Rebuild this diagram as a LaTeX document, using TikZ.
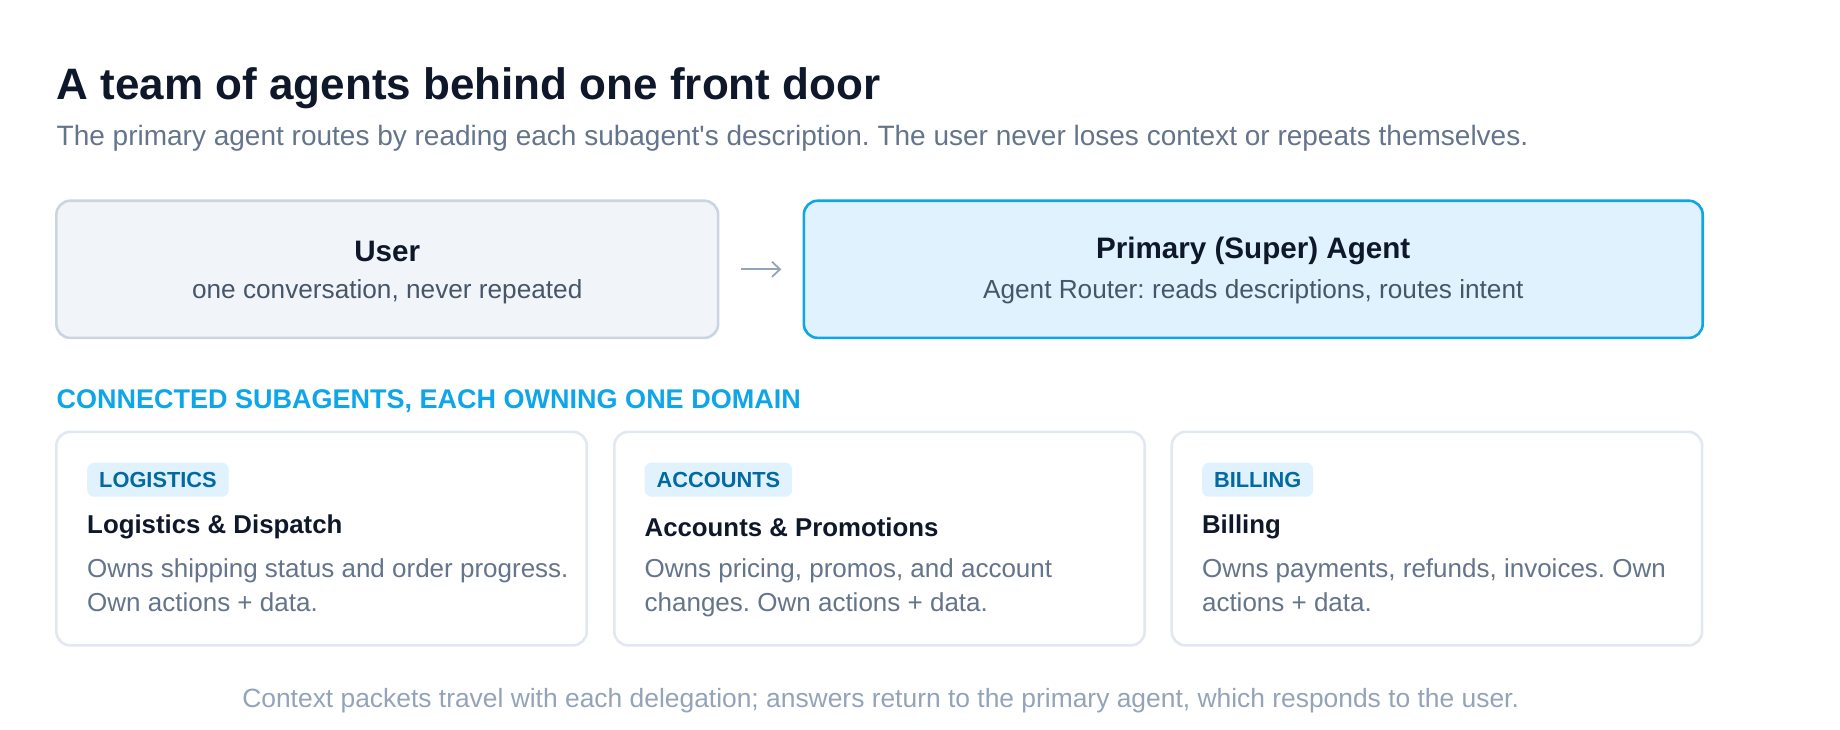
\documentclass[tikz,border=0pt]{standalone}
\usepackage{fontspec}
\setmainfont{Liberation Sans}[Ligatures=TeXOff]
\usetikzlibrary{arrows.meta}
\definecolor{ink}{HTML}{0F172A}
\definecolor{slatefive}{HTML}{64748B}
\definecolor{slatesix}{HTML}{475569}
\definecolor{slatefour}{HTML}{94A3B8}
\definecolor{userfill}{HTML}{F1F5F9}
\definecolor{userline}{HTML}{CBD5E1}
\definecolor{skyfill}{HTML}{E0F2FE}
\definecolor{skyline}{HTML}{0EA5E9}
\definecolor{skydark}{HTML}{0369A1}
\definecolor{cardline}{HTML}{E2E8F0}
\tikzset{
  topbox/.style={draw=userline, fill=userfill, line width=1.3pt, rounded corners=7pt, minimum width=330.9pt, minimum height=68.6pt, inner sep=0pt},
  primbox/.style={draw=skyline, fill=skyfill, line width=1.3pt, rounded corners=7pt, minimum width=449.4pt, minimum height=68.6pt, inner sep=0pt},
  card/.style={draw=cardline, fill=white, line width=1.3pt, rounded corners=7pt, minimum width=265.2pt, minimum height=106.8pt, inner sep=0pt},
  boxtitle/.style={text=ink, font=\fontsize{14.8pt}{17pt}\selectfont\bfseries, inner sep=0pt},
  boxsub/.style={text=slatesix, font=\fontsize{13.1pt}{15pt}\selectfont, inner sep=0pt},
  tagpill/.style={fill=skyfill, text=skydark, rounded corners=3.5pt, font=\fontsize{10.9pt}{12pt}\selectfont\bfseries, minimum height=17pt, inner xsep=6pt, inner ysep=0pt, anchor=north west},
  cardtitle/.style={text=ink, font=\fontsize{12.9pt}{15pt}\selectfont\bfseries, inner sep=0pt, anchor=west},
  carddesc/.style={text=slatefive, font=\fontsize{13pt}{17pt}\selectfont, inner sep=0pt, anchor=base west, align=left},
}
\begin{document}
\frenchspacing
\begin{tikzpicture}[x=0.5867pt,y=-0.5867pt]
\useasboundingbox (0,0) rectangle (1568,622);
% heading
\node[anchor=base west, inner sep=0pt, text=ink, font=\fontsize{22pt}{26pt}\selectfont\bfseries] (title) at (48,85) {A team of agents behind one front door};
\node[anchor=base west, inner sep=0pt, text=slatefive, font=\fontsize{14pt}{17pt}\selectfont] (subtitle) at (48,124) {The primary agent routes by reading each subagent's description. The user never loses context or repeats themselves.};
% top boxes
\node[topbox] (user) at (330,229.5) {};
\node[boxtitle] (usert) at (330,214) {User};
\node[boxsub] (users) at (330,249) {one conversation, never repeated};
\node[primbox] (prim) at (1068,229.5) {};
\node[boxtitle] (primt) at (1068,214) {Primary (Super) Agent};
\node[boxsub] (prims) at (1068,249) {Agent Router: reads descriptions, routes intent};
\draw[slatefour, line width=0.9pt, -{Straight Barb[length=4pt,width=7.5pt]}, shorten <=10.6pt, shorten >=10.6pt] (user.east) -- (prim.west);
% section heading
\node[anchor=west, inner sep=0pt, text=skyline, font=\fontsize{13.5pt}{15pt}\selectfont\bfseries] (sect) at (48,342) {CONNECTED SUBAGENTS, EACH OWNING ONE DOMAIN};
% cards
\node[card] (c1) at (274,459) {};
\node[card] (c2) at (749.5,459) {};
\node[card] (c3) at (1224.5,459) {};
\node[tagpill] (t1) at (74,394) {LOGISTICS};
\node[tagpill] (t2) at (549,394) {ACCOUNTS};
\node[tagpill] (t3) at (1024,394) {BILLING};
\node[cardtitle] (h1) at (74,449) {Logistics \& Dispatch};
\node[cardtitle] (h2) at (549,449) {Accounts \& Promotions};
\node[cardtitle] (h3) at (1024,449) {Billing};
\node[carddesc] (d1) at (74,521) {Owns shipping status and order progress.\\Own actions + data.};
\node[carddesc] (d2) at (549,521) {Owns pricing, promos, and account\\changes. Own actions + data.};
\node[carddesc] (d3) at (1024,521) {Owns payments, refunds, invoices. Own\\actions + data.};
% footer
\node[inner sep=0pt, text=slatefour, font=\fontsize{13.2pt}{15pt}\selectfont] (foot) at (750.5,597) {Context packets travel with each delegation; answers return to the primary agent, which responds to the user.};
\end{tikzpicture}
\end{document}
